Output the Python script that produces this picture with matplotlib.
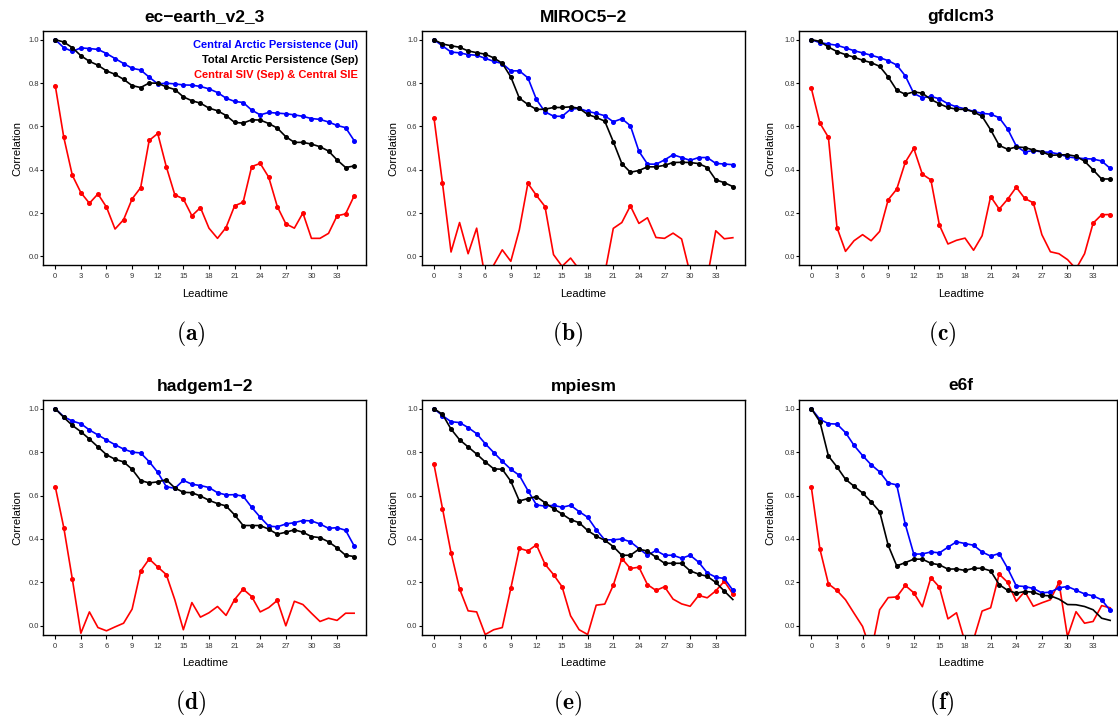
import numpy as np
import matplotlib
matplotlib.use("Agg")
import matplotlib.pyplot as plt

plt.rcParams['font.family'] = ['Liberation Sans', 'DejaVu Sans']
plt.rcParams['mathtext.fontset'] = 'cm'

# ============================================================
# DATA
# ============================================================
leadtime = list(range(36))

titles = ["ec\u2212earth_v2_3", "MIROC5\u22122", "gfdlcm3",
          "hadgem1\u22122", "mpiesm", "e6f"]
captions = ["a", "b", "c", "d", "e", "f"]

central_jul = [
    [1.0, 0.963, 0.946, 0.962, 0.959, 0.955, 0.936, 0.913, 0.89, 0.868, 0.86, 0.827,
     0.796, 0.799, 0.796, 0.791, 0.79, 0.784, 0.773, 0.756, 0.73, 0.715, 0.71, 0.675,
     0.653, 0.664, 0.661, 0.658, 0.653, 0.646, 0.636, 0.632, 0.62, 0.604, 0.594, 0.534],
    [1.0, 0.971, 0.943, 0.939, 0.931, 0.928, 0.914, 0.9, 0.89, 0.856, 0.856, 0.824,
     0.724, 0.667, 0.647, 0.646, 0.679, 0.683, 0.669, 0.66, 0.649, 0.621, 0.635, 0.603,
     0.485, 0.426, 0.425, 0.445, 0.469, 0.456, 0.443, 0.456, 0.456, 0.429, 0.426, 0.423],
    [1.0, 0.986, 0.98, 0.974, 0.962, 0.949, 0.939, 0.928, 0.917, 0.903, 0.883, 0.833,
     0.752, 0.732, 0.738, 0.727, 0.704, 0.69, 0.681, 0.669, 0.66, 0.656, 0.64, 0.587,
     0.509, 0.482, 0.488, 0.482, 0.48, 0.472, 0.459, 0.454, 0.451, 0.449, 0.44, 0.406],
    [1.0, 0.963, 0.943, 0.931, 0.902, 0.879, 0.856, 0.834, 0.814, 0.8, 0.796, 0.756,
     0.707, 0.641, 0.633, 0.67, 0.652, 0.646, 0.637, 0.613, 0.603, 0.604, 0.597, 0.546,
     0.5, 0.459, 0.456, 0.469, 0.475, 0.485, 0.483, 0.469, 0.449, 0.452, 0.44, 0.368],
    [1.0, 0.968, 0.94, 0.936, 0.913, 0.885, 0.839, 0.798, 0.758, 0.721, 0.693, 0.623,
     0.557, 0.551, 0.555, 0.546, 0.555, 0.526, 0.5, 0.443, 0.396, 0.396, 0.4, 0.387,
     0.356, 0.325, 0.347, 0.325, 0.325, 0.311, 0.325, 0.293, 0.244, 0.224, 0.218, 0.164],
    [1.0, 0.951, 0.931, 0.929, 0.89, 0.831, 0.784, 0.742, 0.709, 0.658, 0.649, 0.468,
     0.33, 0.331, 0.34, 0.336, 0.362, 0.387, 0.379, 0.371, 0.34, 0.321, 0.333, 0.264,
     0.184, 0.181, 0.172, 0.152, 0.155, 0.175, 0.181, 0.164, 0.147, 0.138, 0.12, 0.071],
]

total_sep = [
    [1.0, 0.989, 0.963, 0.926, 0.9, 0.882, 0.856, 0.84, 0.817, 0.788, 0.779, 0.8,
     0.799, 0.782, 0.77, 0.736, 0.718, 0.707, 0.684, 0.672, 0.65, 0.618, 0.615, 0.63,
     0.629, 0.613, 0.592, 0.552, 0.526, 0.526, 0.518, 0.506, 0.486, 0.445, 0.41, 0.417],
    [1.0, 0.98, 0.972, 0.965, 0.948, 0.94, 0.933, 0.916, 0.891, 0.828, 0.73, 0.701,
     0.678, 0.679, 0.687, 0.687, 0.69, 0.683, 0.655, 0.641, 0.624, 0.529, 0.428, 0.388,
     0.396, 0.413, 0.413, 0.42, 0.433, 0.434, 0.433, 0.428, 0.41, 0.353, 0.34, 0.322],
    [1.0, 0.992, 0.966, 0.945, 0.931, 0.919, 0.905, 0.894, 0.877, 0.828, 0.767, 0.748,
     0.759, 0.753, 0.724, 0.704, 0.687, 0.679, 0.678, 0.667, 0.646, 0.584, 0.512, 0.494,
     0.505, 0.502, 0.491, 0.483, 0.466, 0.468, 0.469, 0.462, 0.439, 0.399, 0.357, 0.357],
    [1.0, 0.96, 0.923, 0.894, 0.86, 0.824, 0.788, 0.767, 0.755, 0.721, 0.669, 0.658,
     0.663, 0.673, 0.635, 0.615, 0.613, 0.598, 0.578, 0.563, 0.552, 0.511, 0.462, 0.462,
     0.462, 0.445, 0.422, 0.431, 0.442, 0.431, 0.411, 0.406, 0.387, 0.359, 0.325, 0.319],
    [1.0, 0.974, 0.906, 0.857, 0.824, 0.791, 0.755, 0.723, 0.721, 0.666, 0.575, 0.586,
     0.595, 0.567, 0.54, 0.515, 0.489, 0.475, 0.439, 0.413, 0.394, 0.365, 0.325, 0.325,
     0.353, 0.344, 0.316, 0.288, 0.288, 0.288, 0.253, 0.238, 0.228, 0.2, 0.16, 0.121],
    [1.0, 0.94, 0.782, 0.732, 0.675, 0.643, 0.612, 0.571, 0.526, 0.371, 0.276, 0.291,
     0.307, 0.307, 0.288, 0.281, 0.261, 0.262, 0.255, 0.265, 0.265, 0.253, 0.19, 0.163,
     0.15, 0.158, 0.155, 0.14, 0.138, 0.123, 0.098, 0.097, 0.089, 0.074, 0.035, 0.025],
]

siv_sie = [
    [0.788, 0.549, 0.374, 0.294, 0.245, 0.288, 0.227, 0.126, 0.169, 0.265, 0.317, 0.535,
     0.567, 0.414, 0.284, 0.265, 0.187, 0.225, 0.13, 0.083, 0.133, 0.233, 0.25, 0.414,
     0.429, 0.365, 0.23, 0.15, 0.13, 0.2, 0.083, 0.083, 0.106, 0.187, 0.196, 0.279],
    [0.64, 0.337, 0.02, 0.156, 0.012, 0.13, -0.1, -0.04, 0.03, -0.023, 0.123, 0.337,
     0.281, 0.23, 0.008, -0.046, -0.008, -0.06, -0.1, -0.1, -0.08, 0.129, 0.156, 0.233,
     0.152, 0.178, 0.087, 0.083, 0.107, 0.08, -0.08, -0.15, -0.1, 0.118, 0.081, 0.086],
    [0.775, 0.615, 0.549, 0.133, 0.023, 0.072, 0.1, 0.072, 0.115, 0.261, 0.31, 0.434,
     0.498, 0.379, 0.353, 0.144, 0.057, 0.074, 0.084, 0.028, 0.095, 0.276, 0.218, 0.264,
     0.319, 0.267, 0.247, 0.1, 0.021, 0.012, -0.015, -0.058, 0.012, 0.153, 0.192, 0.193],
    [0.641, 0.452, 0.215, -0.034, 0.064, -0.008, -0.023, -0.005, 0.012, 0.077, 0.252, 0.308,
     0.271, 0.236, 0.12, -0.018, 0.107, 0.04, 0.06, 0.089, 0.048, 0.121, 0.169, 0.135,
     0.064, 0.084, 0.117, 0.0, 0.113, 0.098, 0.058, 0.02, 0.035, 0.025, 0.058, 0.058],
    [0.744, 0.54, 0.337, 0.17, 0.069, 0.064, -0.04, -0.018, -0.008, 0.173, 0.357, 0.345,
     0.373, 0.284, 0.236, 0.18, 0.046, -0.018, -0.04, 0.095, 0.1, 0.187, 0.31, 0.264,
     0.27, 0.19, 0.163, 0.18, 0.123, 0.101, 0.09, 0.14, 0.129, 0.161, 0.205, 0.147],
    [0.638, 0.354, 0.193, 0.163, 0.12, 0.058, -0.003, -0.12, 0.074, 0.13, 0.133, 0.186,
     0.152, 0.088, 0.222, 0.178, 0.032, 0.06, -0.075, -0.063, 0.068, 0.083, 0.238, 0.2,
     0.113, 0.158, 0.09, 0.106, 0.12, 0.2, -0.05, 0.065, 0.012, 0.02, 0.093, 0.083],
]

# leadtimes that carry a dot (significant correlations)
all_idx = list(range(36))
blue_marks = [all_idx] * 6
black_marks = [all_idx, all_idx, all_idx, all_idx, list(range(35)), list(range(29))]
red_marks = [
    [0, 1, 2, 3, 4, 5, 6, 8, 9, 10, 11, 12, 13, 14, 15, 16, 17, 20, 21, 22, 23, 24, 25,
     26, 27, 29, 33, 34, 35],
    [0, 1, 11, 12, 13, 23],
    [0, 1, 2, 3, 9, 10, 11, 12, 13, 14, 15, 21, 22, 23, 24, 25, 26, 33, 34, 35],
    [0, 1, 2, 10, 11, 12, 13, 21, 22, 23, 26],
    [0, 1, 2, 3, 9, 10, 11, 12, 13, 14, 15, 21, 22, 23, 24, 25, 26, 27, 31, 33, 34, 35],
    [0, 1, 2, 3, 10, 11, 12, 14, 15, 22, 23, 25, 29],
]

legend_labels = ["Central Arctic Persistence (Jul)",
                 "Total Arctic Persistence (Sep)",
                 "Central SIV (Sep) & Central SIE"]

# ============================================================
# LAYOUT (pixels of a 1118 x 720 figure)
# ============================================================
W, H = 1118, 720
col_left = [43.3, 422.0, 799.4]
col_width = [322.8, 322.8, 317.6]
col_xmax = [36.4, 36.4, 35.8]
caption_x = [191, 568, 942]
row_top = [31.0, 400.0]
row_bottom = [265.0, 634.5]

fig = plt.figure(figsize=(W / 100, H / 100), dpi=100)

for k in range(6):
    r, c = divmod(k, 3)
    left = col_left[c]
    top, bottom = row_top[r], row_bottom[r]
    ax = fig.add_axes([left / W, 1 - bottom / H, col_width[c] / W, (bottom - top) / H])

    ax.plot(leadtime, central_jul[k], color='blue', lw=1.2, marker='o', ms=2.6,
            markevery=blue_marks[k], zorder=3)
    ax.plot(leadtime, total_sep[k], color='black', lw=1.2, marker='o', ms=2.6,
            markevery=black_marks[k], zorder=4)
    ax.plot(leadtime, siv_sie[k], color='red', lw=1.2, marker='o', ms=2.6,
            markevery=red_marks[k], zorder=2)

    ax.set_xlim(-1.4, col_xmax[c])
    ax.set_ylim(-0.04, 1.04)
    ax.set_xticks(range(0, 34, 3))
    ax.set_yticks([0.0, 0.2, 0.4, 0.6, 0.8, 1.0])
    ax.set_yticklabels(["0.0", "0.2", "0.4", "0.6", "0.8", "1.0"])
    ax.tick_params(axis='x', length=3, width=0.8, pad=2.8, labelsize=5.5,
                   labelcolor='#333333')
    ax.tick_params(axis='y', length=2, width=0.8, pad=1.2, labelsize=5.5,
                   labelcolor='#333333')
    for s in ax.spines.values():
        s.set_linewidth(1.0)

    cx = left + 322.8 / 2
    fig.text(cx / W, 1 - (top - 14) / H, titles[k], ha='center', va='center',
             fontsize=12.5, fontweight='bold')
    fig.text(cx / W, 1 - (bottom + 29) / H, "Leadtime", ha='center', va='center',
             fontsize=8)
    ylab_x = left - (26 if c == 0 else 29)
    fig.text(ylab_x / W, 1 - (top + bottom) / 2 / H, "Correlation", rotation=90,
             ha='center', va='center', fontsize=8)
    fig.text(caption_x[c] / W, 1 - (bottom + 69) / H,
             r"$\mathbf{(%s)}$" % captions[k], ha='center', va='center', fontsize=17)

    if k == 0:
        for j, (lab, colr) in enumerate(zip(legend_labels, ['blue', 'black', 'red'])):
            ax.text(0.975, 0.94 - j * 0.065, lab, transform=ax.transAxes, ha='right',
                    va='center', color=colr, fontsize=8, fontweight='bold')

fig.savefig("out.png", dpi=100)
